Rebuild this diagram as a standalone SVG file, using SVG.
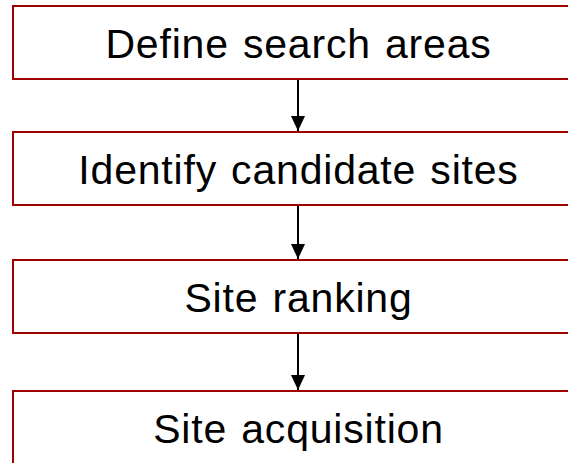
<svg xmlns="http://www.w3.org/2000/svg" width="568" height="463" viewBox="0 0 568 463">
<style>
.box{fill:#fff;stroke:#a00000;stroke-width:2}
.lbl{font-family:"Liberation Sans",Arial,sans-serif;font-size:41px;letter-spacing:0.8px;word-spacing:2px;fill:#000;text-anchor:middle}
.conn{stroke:#000;stroke-width:2;fill:none}
</style>
<defs>
<marker id="ah" markerWidth="7.5" markerHeight="7" refX="7.5" refY="3.5" orient="auto" markerUnits="strokeWidth">
<path d="M0,0 L7.5,3.5 L0,7 Z" fill="#000"/>
</marker>
</defs>
<rect width="568" height="463" fill="#fff"/>
<g id="n1"><rect class="box" x="13" y="6" width="580" height="73"/><text class="lbl" x="298.5" y="58">Define search areas</text></g>
<g id="n2"><rect class="box" x="13" y="132" width="580" height="73"/><text class="lbl" x="298.5" y="184">Identify candidate sites</text></g>
<g id="n3"><rect class="box" x="13" y="260" width="580" height="73"/><text class="lbl" x="298.5" y="312">Site ranking</text></g>
<g id="n4"><rect class="box" x="13" y="391" width="580" height="73"/><text class="lbl" x="298.5" y="443">Site acquisition</text></g>
<g id="connectors">
<line class="conn" x1="298" y1="80" x2="298" y2="131" marker-end="url(#ah)"/>
<line class="conn" x1="298" y1="206" x2="298" y2="259" marker-end="url(#ah)"/>
<line class="conn" x1="298" y1="334" x2="298" y2="390" marker-end="url(#ah)"/>
</g>
</svg>
